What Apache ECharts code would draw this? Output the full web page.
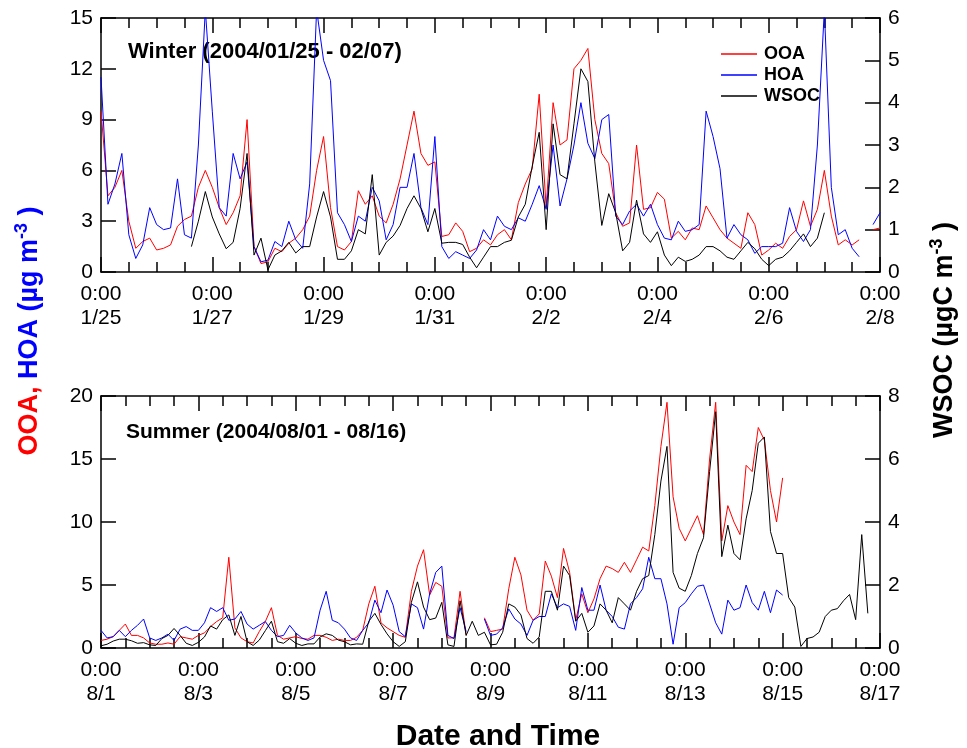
<!DOCTYPE html>
<html>
<head>
<meta charset="utf-8">
<script src="https://cdn.jsdelivr.net/npm/echarts@6/dist/echarts.min.js"></script>
<style>html,body{margin:0;padding:0;background:#fff}#c{width:967px;height:748px}</style>
</head>
<body>
<div id="c"></div>
<script>
// ---- data (sampled every 3 hours from the start of each period) ----
const STEP_H = 3;
const winterDates = ['1/25','1/27','1/29','1/31','2/2','2/4','2/6','2/8'];
const summerDates = ['8/1','8/3','8/5','8/7','8/9','8/11','8/13','8/15','8/17'];

const winterOOA = [9.5,4.5,5.0,6.0,3.0,1.4,1.8,2.0,1.3,1.4,1.6,2.7,3.1,3.3,5.0,6.0,5.0,3.8,2.8,3.5,4.5,9.0,1.5,0.5,0.6,1.4,1.2,1.7,
2.0,2.5,3.3,6.0,8.0,3.8,1.5,1.3,1.8,4.8,4.0,4.5,3.3,2.9,4.0,5.5,7.5,9.5,7.0,6.3,6.5,2.1,2.2,2.9,2.4,1.2,1.4,1.9,
1.6,2.2,2.5,1.9,4.1,5.2,6.1,10.5,3.8,10.0,7.5,7.8,12.0,12.5,13.2,9.0,7.0,6.4,3.5,2.7,2.9,7.5,3.7,3.8,4.7,4.3,2.0,2.4,
1.9,2.6,2.5,3.9,3.2,2.5,2.0,1.7,1.4,3.5,2.8,1.0,1.3,1.7,1.4,2.1,2.5,4.2,2.7,3.7,6.0,3.3,1.6,1.9,1.6,1.9,null,2.5,2.6];
const winterHOA = [11.5,4.0,5.2,7.0,2.2,0.8,1.6,3.8,2.8,2.5,2.6,5.5,2.2,2.0,7.5,15.5,9.5,3.8,3.3,7.0,5.5,6.5,1.5,0.6,0.7,1.8,1.5,3.0,
1.9,1.4,5.2,15.5,12.5,11.3,3.5,2.8,1.8,3.3,3.0,5.0,4.2,1.9,2.8,5.0,5.0,7.0,3.8,2.8,8.0,1.5,0.8,1.2,1.0,0.8,1.3,2.5,
1.9,3.3,2.7,2.5,3.2,3.0,4.0,5.1,3.7,7.5,3.9,5.5,7.5,10.0,7.6,6.7,9.0,9.3,3.3,2.8,3.6,4.0,3.3,4.0,2.8,2.0,1.9,3.0,
2.4,2.5,2.8,9.5,8.0,6.1,2.0,2.8,2.2,1.9,1.1,1.5,1.5,1.5,1.7,3.8,2.4,1.8,2.5,7.5,15.5,5.0,2.2,2.5,1.4,0.9,null,2.8,3.5];
const winterWSOC = [null,null,null,null,null,null,null,null,null,null,null,null,null,0.6,1.2,1.9,1.3,0.9,0.55,0.7,1.5,2.8,0.4,0.8,0.05,0.4,0.5,0.7,
0.45,0.6,0.6,1.3,1.9,1.3,0.3,0.3,0.5,1.0,0.9,2.3,0.4,0.7,0.85,1.1,1.5,1.8,1.5,0.95,1.5,0.68,0.7,0.7,0.65,0.35,0.1,0.35,
0.6,0.6,0.7,0.75,1.3,1.6,2.5,3.3,1.0,3.5,2.3,2.2,3.5,4.8,4.5,2.6,1.1,1.85,1.4,0.5,0.7,1.7,0.9,0.7,0.95,0.4,0.15,0.35,
0.25,0.3,0.4,0.6,0.6,0.5,0.35,0.3,0.5,0.7,0.55,0.3,0.15,0.3,0.35,0.5,0.7,0.9,0.6,0.8,1.4,null,null,null,null,null,null,null,null];

const summerOOA = [0.6,0.7,0.9,1.4,1.9,1.0,1.0,0.8,0.4,0.3,0.3,0.4,0.3,0.9,0.8,0.7,1.0,1.2,1.7,2.1,2.4,7.2,1.6,0.8,0.5,0.4,1.3,2.1,3.2,1.0,0.7,0.8,
0.9,0.75,0.7,1.0,1.0,0.85,0.6,0.7,0.6,0.6,0.85,1.4,3.5,4.9,2.0,1.6,1.3,1.0,0.85,4.5,6.5,7.8,4.2,5.2,4.9,0.8,0.8,4.5,1.0,null,null,
2.4,1.3,1.4,1.5,4.7,7.2,5.8,3.0,2.2,2.7,6.9,5.7,4.0,7.9,6.0,2.2,4.3,2.8,3.9,5.5,6.5,6.3,6.0,6.8,6.0,7.0,8.0,7.7,11.3,16.0,19.5,12.0,
9.5,8.5,9.5,10.5,9.0,15.0,19.5,8.5,11.3,10.0,9.0,14.5,14.0,17.5,16.5,12.5,10.0,13.5,null,null,null,null,null,null,null,null,null,null,null,null,null,null,null,null];
const summerHOA = [1.4,0.8,0.9,1.4,0.9,1.4,1.8,2.3,0.8,0.6,0.8,1.1,0.6,1.5,1.7,1.4,1.4,2.0,3.2,2.9,3.2,2.2,2.3,2.9,1.9,1.5,1.8,2.1,1.4,0.9,1.0,1.8,
1.2,0.8,0.6,0.8,3.0,4.5,2.2,2.0,1.5,0.8,0.6,1.4,2.0,3.8,2.8,4.6,3.4,1.3,0.9,3.5,3.2,1.5,4.3,6.0,6.5,1.0,0.75,3.2,1.3,null,null,
2.3,1.0,1.1,1.6,3.1,2.3,1.9,1.0,2.2,2.5,2.5,4.3,3.2,3.5,3.3,1.4,4.8,3.0,3.0,5.0,3.0,2.5,1.65,1.5,3.5,4.0,4.7,7.2,5.5,5.5,3.5,0.3,
3.2,3.6,4.3,4.9,5.0,3.5,2.0,1.1,3.8,3.0,3.2,5.0,3.6,3.0,4.5,2.8,4.6,4.2,null,null,null,null,null,null,null,null,null,null,null,null,null,null,null,null];
const summerWSOC = [0.07,0.12,0.22,0.28,0.28,0.23,0.15,0.17,0.1,0.08,0.3,0.4,0.62,0.4,0.15,0.08,0.18,0.35,0.7,0.6,0.9,1.05,0.4,1.0,0.2,0.08,0.25,0.55,0.85,0.2,0.15,0.3,
0.15,0.08,0.13,0.13,0.35,0.45,0.4,0.25,0.2,0.1,0.13,0.12,0.85,1.1,0.75,0.45,0.2,0.05,0.2,1.45,2.1,1.3,0.9,0.95,1.45,0.1,0.05,1.5,0.4,0.85,0.4,
0.5,0.1,0.12,0.5,1.4,1.3,1.05,0.3,0.15,0.35,1.8,1.8,1.2,2.6,2.3,0.85,1.1,0.5,0.7,1.4,1.2,0.8,1.6,1.4,1.2,1.8,2.2,2.3,3.6,5.3,6.4,2.4,
1.9,1.8,2.3,3.0,3.5,5.6,7.5,2.9,3.9,3.0,2.8,4.1,5.0,6.5,6.7,3.7,3.0,3.0,1.6,1.3,0.05,0.3,0.35,0.5,1.0,1.2,1.25,1.5,1.7,0.9,3.6,1.1,null,null];

// ---- chart ----
const FONT = 'Liberation Sans, Arial, Helvetica, sans-serif';
const toXY = arr => arr.map((v, i) => [i * STEP_H, v]);

function xAxes(gridIndex, max, dates) {
  const common = {
    type: 'value', gridIndex, min: 0, max, interval: 48,
    axisLine: { show: true, onZero: false, lineStyle: { color: '#000', width: 1.5 } },
    axisTick: { show: true, inside: true, length: 15, lineStyle: { color: '#000', width: 1.5 } },
    minorTick: { show: true, splitNumber: 4, length: 10, lineStyle: { color: '#000', width: 1.5 } },
    splitLine: { show: false }, minorSplitLine: { show: false }
  };
  return [
    Object.assign({}, common, {
      position: 'bottom',
      axisLabel: {
        show: true, interval: 0, margin: 10, color: '#000', fontFamily: FONT, fontSize: 21, lineHeight: 24,
        hideOverlap: false, showMinLabel: true, showMaxLabel: true,
        formatter: v => '0:00\n' + dates[Math.round(v / 48)]
      }
    }),
    Object.assign({}, common, { position: 'top', axisLabel: { show: false } })
  ];
}
function yAxis(gridIndex, pos, max, interval) {
  return {
    type: 'value', gridIndex, position: pos, min: 0, max, interval,
    axisLine: { show: true, onZero: false, lineStyle: { color: '#000', width: 1.5 } },
    axisTick: { show: true, inside: true, length: 15, lineStyle: { color: '#000', width: 1.5 } },
    axisLabel: { show: true, margin: 8, color: '#000', fontFamily: FONT, fontSize: 21,
                 showMinLabel: true, showMaxLabel: true },
    splitLine: { show: false }
  };
}
function line(name, color, data, xi, yi) {
  return { type: 'line', name, data: toXY(data), xAxisIndex: xi, yAxisIndex: yi,
           showSymbol: false, symbol: 'none', connectNulls: false, clip: true,
           lineStyle: { color, width: 1 }, itemStyle: { color }, emphasis: { disabled: true } };
}

const chart = echarts.init(document.getElementById('c'), null, { renderer: 'canvas' });
chart.setOption({
  animation: false,
  backgroundColor: '#fff',
  grid: [
    { left: 101, top: 18, width: 779, height: 254 },
    { left: 101, top: 396, width: 779, height: 252 }
  ],
  xAxis: [].concat(xAxes(0, 336, winterDates), xAxes(1, 384, summerDates)),
  yAxis: [
    yAxis(0, 'left', 15, 3), yAxis(0, 'right', 6, 1),
    yAxis(1, 'left', 20, 5), yAxis(1, 'right', 8, 2)
  ],
  legend: {
    data: ['OOA', 'HOA', 'WSOC'], orient: 'vertical', left: 716, top: 40,
    icon: 'rect', itemWidth: 36, itemHeight: 1.5, itemGap: 3, selectedMode: false,
    textStyle: { color: '#000', fontFamily: FONT, fontSize: 18, fontWeight: 'bold', lineHeight: 18, padding: [0, 0, 0, 2] }
  },
  series: [
    line('OOA', '#ff0000', winterOOA, 0, 0),
    line('HOA', '#0000ff', winterHOA, 0, 0),
    line('WSOC', '#000000', winterWSOC, 0, 1),
    line('OOA', '#ff0000', summerOOA, 2, 2),
    line('HOA', '#0000ff', summerHOA, 2, 2),
    line('WSOC', '#000000', summerWSOC, 2, 3)
  ],
  graphic: [
    { type: 'text', x: 128, y: 52, style: { text: 'Winter (2004/01/25 - 02/07)', fill: '#000',
      font: 'bold 22px ' + FONT, align: 'left', verticalAlign: 'middle' } },
    { type: 'text', x: 126, y: 432, style: { text: 'Summer (2004/08/01 - 08/16)', fill: '#000',
      font: 'bold 21px ' + FONT, align: 'left', verticalAlign: 'middle' } },
    { type: 'text', x: 498, y: 737, style: { text: 'Date and Time', fill: '#000',
      font: 'bold 30px ' + FONT, align: 'center', verticalAlign: 'middle' } },
    { type: 'text', x: 30, y: 331, rotation: Math.PI / 2,
      style: { text: '{r|OOA, }{b|HOA (µg m}{s|-3}{b| )}', align: 'center', verticalAlign: 'middle',
        rich: {
          r: { fill: '#ff0000', font: 'bold 27px ' + FONT, lineHeight: 34 },
          b: { fill: '#0000ff', font: 'bold 27px ' + FONT, lineHeight: 34 },
          s: { fill: '#0000ff', font: 'bold 18px ' + FONT, lineHeight: 34, verticalAlign: 'top' }
        } } },
    { type: 'text', x: 945, y: 330, rotation: Math.PI / 2,
      style: { text: '{k|WSOC (µgC m}{s|-3}{k| )}', align: 'center', verticalAlign: 'middle',
        rich: {
          k: { fill: '#000', font: 'bold 27px ' + FONT, lineHeight: 34 },
          s: { fill: '#000', font: 'bold 18px ' + FONT, lineHeight: 34, verticalAlign: 'top' }
        } } }
  ]
});
</script>
</body>
</html>
